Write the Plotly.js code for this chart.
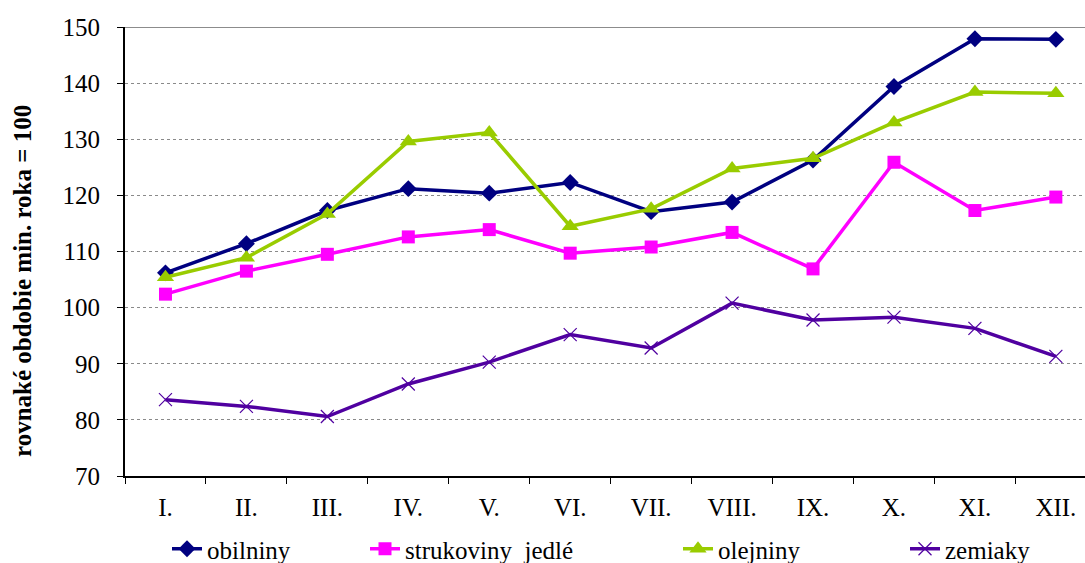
<!DOCTYPE html>
<html>
<head>
<meta charset="utf-8">
<script src="https://cdn.plot.ly/plotly-3.0.1.min.js"></script>
<style>
html,body{margin:0;padding:0;overflow:hidden;background:#fff;}
#chart{width:1085px;height:563px;}
</style>
</head>
<body>
<div id="chart"></div>
<script>
const months = ["I.", "II.", "III.", "IV.", "V.", "VI.", "VII.", "VIII.", "IX.", "X.", "XI.", "XII."];
const obilniny = [106.2, 111.4, 117.3, 121.2, 120.4, 122.3, 117.1, 118.8, 126.3, 139.4, 147.9, 147.8];
const strukoviny = [102.4, 106.5, 109.5, 112.6, 113.9, 109.7, 110.8, 113.4, 106.9, 125.9, 117.3, 119.7];
const olejniny = [105.4, 108.9, 116.7, 129.6, 131.2, 114.5, 117.6, 124.8, 126.6, 133.0, 138.4, 138.2];
const zemiaky = [83.6, 82.4, 80.6, 86.4, 90.3, 95.2, 92.8, 100.8, 97.8, 98.3, 96.3, 91.3];

const names = ["obilniny", "strukoviny  jedlé", "olejniny", "zemiaky"];
const yTitle = "rovnaké obdobie min. roka = 100";

const FAM = "Liberation Serif";
const f = (size) => ({family: FAM, size: size, color: "#000"});

const traces = [
  {x: months, y: obilniny, name: names[0], type: "scatter", mode: "lines+markers", legend: "legend",
   line: {color: "#000080", width: 3.5}, marker: {symbol: "diamond", size: 13, color: "#000080"}},
  {x: months, y: strukoviny, name: names[1], type: "scatter", mode: "lines+markers", legend: "legend2",
   line: {color: "#FF00FF", width: 3.5}, marker: {symbol: "square", size: 13, color: "#FF00FF"}},
  {x: months, y: olejniny, name: names[2], type: "scatter", mode: "lines+markers", legend: "legend3",
   line: {color: "#99CC00", width: 3.5}, marker: {symbol: "triangle-up", size: 15, color: "#99CC00"}},
  {x: months, y: zemiaky, name: names[3], type: "scatter", mode: "lines+markers", legend: "legend4",
   line: {color: "#5000A0", width: 3.5}, marker: {symbol: "x-thin", size: 13, color: "#5000A0", line: {color: "#5000A0", width: 1.2}}}
];

function leg(textX) {
  return {orientation: "h", xref: "container", yref: "container",
          x: (textX - 40) / 1085, y: (563 - 549) / 563, xanchor: "left", yanchor: "middle",
          font: f(25), itemwidth: 30, bgcolor: "rgba(0,0,0,0)", borderwidth: 0};
}

const layout = {
  width: 1085, height: 563,
  margin: {l: 125, r: 0, t: 27, b: 87, autoexpand: false},
  paper_bgcolor: "#fff", plot_bgcolor: "#fff",
  font: f(25),
  showlegend: true,
  legend: leg(207), legend2: leg(405), legend3: leg(718), legend4: leg(945),
  xaxis: {type: "category", range: [-0.5, 11.36], tickson: "boundaries",
          ticks: "outside", ticklen: 6, tickcolor: "#000", tickwidth: 1,
          showline: true, linecolor: "#000", linewidth: 2, showgrid: false, zeroline: false,
          tickfont: f(25), ticklabelstandoff: 8, fixedrange: true},
  yaxis: {range: [70, 150], dtick: 10, tick0: 70, ticks: "outside", ticklen: 6, tickcolor: "#000",
          showline: true, linecolor: "#000", linewidth: 2,
          showgrid: true, gridcolor: "#8a8a8a", griddash: "dot", gridwidth: 1, zeroline: false,
          tickfont: f(25), ticklabelstandoff: 12},
  annotations: [
    {text: "<b>" + yTitle + "</b>", textangle: -90, xref: "paper", yref: "paper",
     x: (22 - 125) / 960, y: (476 - 281) / 449, xanchor: "center", yanchor: "middle",
     showarrow: false, font: f(25)}
  ],
  shapes: [
    {type: "line", xref: "paper", yref: "y", x0: 0, x1: 1, y0: 150, y1: 150,
     line: {color: "#8c8c8c", width: 2}}
  ]
};

Plotly.newPlot("chart", traces, layout, {displayModeBar: false, staticPlot: true});
</script>
</body>
</html>
